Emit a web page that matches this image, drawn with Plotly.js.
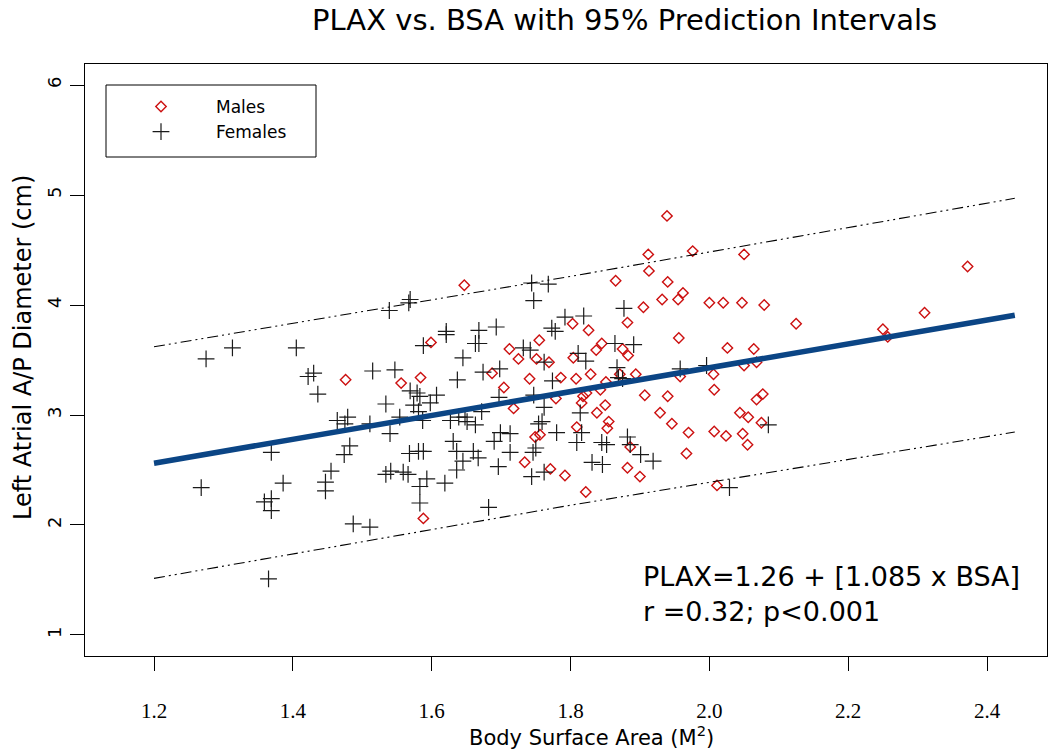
<!DOCTYPE html>
<html><head><meta charset="utf-8">
<script src="https://cdn.plot.ly/plotly-3.0.1.min.js"></script>
<style>html,body{margin:0;padding:0;background:#fff}#chart{width:1050px;height:752px}</style>
</head><body><div id="chart"></div>
<script>
// Males (diamonds)
const maleBSA = [1.647,1.599,1.476,1.556,1.584,1.687,1.704,1.718,1.712,1.725,1.741,1.734,1.588,
1.865,1.940,1.962,1.955,1.932,2.000,1.905,1.882,1.803,1.826,1.755,1.956,1.845,1.837,1.875,1.883,1.804,1.751,1.769,1.829,1.808,1.786,1.871,1.894,1.958,2.006,2.007,1.851,1.843,1.823,1.818,1.779,1.816,1.907,1.940,1.850,1.838,1.929,1.855,1.853,1.946,1.970,2.007,1.809,1.749,1.756,1.886,1.967,1.771,1.792,1.882,1.900,1.822,2.011,
1.939,1.912,1.976,2.050,1.913,2.020,2.047,2.079,2.125,2.026,2.064,2.068,2.050,2.077,2.068,2.044,2.056,2.024,2.048,2.055,2.075,
2.372,2.310,2.250,2.257];
const maleLA = [4.18,3.66,3.32,3.29,3.34,3.38,3.25,3.06,3.60,3.51,3.33,2.57,2.06,
4.22,4.21,4.11,4.05,4.05,4.02,3.98,3.84,3.83,3.77,3.68,3.70,3.65,3.59,3.60,3.54,3.52,3.51,3.48,3.37,3.33,3.34,3.37,3.37,3.35,3.37,3.23,3.30,3.23,3.20,3.17,3.15,3.11,3.18,3.17,3.09,3.02,3.02,2.94,2.88,2.92,2.84,2.85,2.89,2.80,2.82,2.71,2.65,2.51,2.45,2.52,2.44,2.30,2.36,
4.81,4.46,4.49,4.46,4.31,4.02,4.02,4.00,3.83,3.61,3.60,3.48,3.45,3.19,3.14,3.02,2.98,2.81,2.83,2.73,2.93,
4.35,3.93,3.78,3.71];
// Females (crosses)
const femaleBSA = [1.275,1.313,1.405,1.422,1.430,1.436,1.464,1.369,1.268,1.386,1.455,1.447,1.447,1.359,1.369,1.369,1.365,
1.567,1.569,1.539,1.621,1.621,1.668,1.693,1.663,1.668,1.588,1.645,1.698,1.674,1.515,1.547,1.637,1.569,1.579,1.583,1.607,1.598,1.574,1.534,1.581,1.554,1.587,1.697,1.672,1.639,1.648,1.651,1.627,1.663,1.511,1.479,1.475,1.540,1.699,1.713,1.690,1.631,1.482,1.474,1.588,1.581,1.568,1.636,1.660,1.667,1.713,1.645,1.636,1.696,1.541,1.534,1.559,1.566,1.593,1.583,1.619,1.583,1.682,1.487,1.511,
1.744,1.768,1.747,1.792,1.819,1.877,1.773,1.778,1.732,1.742,1.864,1.891,1.811,1.822,1.762,1.867,1.869,1.875,1.774,1.747,1.958,1.996,1.762,1.814,1.759,1.754,1.780,1.816,1.809,1.845,1.852,1.882,1.886,1.750,1.746,1.901,1.919,1.831,1.846,1.744,1.762,
2.085,2.029];
const femaleLA = [3.51,3.61,3.61,3.35,3.38,3.19,2.95,2.66,2.34,2.38,2.49,2.39,2.31,2.21,2.24,2.13,1.51,
4.02,4.05,3.95,3.76,3.73,3.77,3.80,3.65,3.65,3.63,3.52,3.42,3.39,3.40,3.41,3.32,3.22,3.20,3.17,3.18,3.11,3.09,3.10,3.03,2.98,2.95,3.16,3.03,2.98,2.98,2.94,2.95,2.91,2.92,2.98,2.92,2.83,2.84,2.83,2.76,2.76,2.72,2.64,2.67,2.67,2.65,2.67,2.67,2.61,2.66,2.58,2.50,2.53,2.49,2.46,2.48,2.46,2.42,2.35,2.38,2.20,2.16,2.01,1.98,
4.20,4.19,4.04,3.89,3.90,3.97,3.79,3.76,3.61,3.59,3.65,3.64,3.56,3.49,3.48,3.43,3.34,3.33,3.31,3.18,3.42,3.45,3.07,3.02,2.94,2.92,2.84,2.84,2.75,2.75,2.73,2.80,2.73,2.70,2.66,2.64,2.58,2.57,2.55,2.44,2.48,
2.91,2.34];
// Regression line and 95% prediction interval
const lineBSA = [1.2, 1.8, 2.44];
const fitLA = [2.562, 3.213, 3.907];
const upperPI = [3.62, 4.26, 4.97];
const lowerPI = [1.515, 2.18, 2.845];
// Axis ticks
const xTickVals = [1.2, 1.4, 1.6, 1.8, 2.0, 2.2, 2.4];
const xTickText = ['1.2', '1.4', '1.6', '1.8', '2.0', '2.2', '2.4'];
const yTickVals = [1, 2, 3, 4, 5, 6];
const seriesNames = ['Males', 'Females'];

const dashPI = '11px,4px,2px,4px,2px,4px';
const traces = [
  {x: maleBSA, y: maleLA, type: 'scatter', mode: 'markers', name: seriesNames[0],
   marker: {symbol: 'diamond-open', size: 8, color: '#cc1010', line: {width: 1.4, color: '#cc1010'}}},
  {x: femaleBSA, y: femaleLA, type: 'scatter', mode: 'markers', name: seriesNames[1],
   marker: {symbol: 'cross-thin-open', size: 12, color: '#1a1a1a', line: {width: 1.2, color: '#1a1a1a'}}},
  {x: lineBSA, y: upperPI, type: 'scatter', mode: 'lines', showlegend: false, hoverinfo: 'skip',
   line: {color: '#000', width: 1.1, dash: dashPI}},
  {x: lineBSA, y: lowerPI, type: 'scatter', mode: 'lines', showlegend: false, hoverinfo: 'skip',
   line: {color: '#000', width: 1.1, dash: dashPI}},
  {x: lineBSA, y: fitLA, type: 'scatter', mode: 'lines', showlegend: false, hoverinfo: 'skip',
   line: {color: '#0b4585', width: 5.5}}
];

const L = 85, R = 1047, T = 64, B = 656;
const px2x = p => (p - L) / (R - L);
const px2y = p => (B - p) / (B - T);

const layout = {
  width: 1050, height: 752,
  margin: {l: L, r: 1050 - R, t: T, b: 752 - B, pad: 0},
  paper_bgcolor: '#fff', plot_bgcolor: '#fff',
  showlegend: true,
  xaxis: {
    range: [1.1006, 2.4864], tickvals: xTickVals, ticktext: xTickText,
    ticks: 'outside', ticklen: 14, tickwidth: 1, tickcolor: '#000',
    showgrid: false, zeroline: false, showline: true, linecolor: '#000', linewidth: 1, mirror: true,
    tickfont: {family: 'Liberation Serif, serif', size: 21, color: '#000'},
    ticklabelstandoff: 22
  },
  yaxis: {
    range: [0.809, 6.191], tickvals: yTickVals, tickangle: -90,
    ticks: 'outside', ticklen: 14, tickwidth: 1, tickcolor: '#000',
    showgrid: false, zeroline: false, showline: true, linecolor: '#000', linewidth: 1, mirror: true,
    tickfont: {family: 'DejaVu Sans, sans-serif', size: 18, color: '#000'},
    ticklabelstandoff: 2
  },
  legend: {
    x: px2x(106), y: px2y(89), xanchor: 'left', yanchor: 'top',
    bgcolor: 'rgba(0,0,0,0)', borderwidth: 0, itemwidth: 100,
    font: {family: 'DejaVu Sans, sans-serif', size: 17, color: '#000'},
    tracegroupgap: 0
  },
  shapes: [
    {type: 'rect', xref: 'paper', yref: 'paper', x0: px2x(106), x1: px2x(316), y0: px2y(157), y1: px2y(85),
     line: {color: '#000', width: 1}, fillcolor: 'rgba(0,0,0,0)', layer: 'above'}
  ],
  annotations: [
    {text: 'PLAX vs. BSA with 95% Prediction Intervals', xref: 'paper', yref: 'paper',
     x: px2x(624), y: px2y(20), xanchor: 'center', yanchor: 'middle', showarrow: false,
     font: {family: 'DejaVu Sans, sans-serif', size: 29, color: '#000'}},
    {text: 'Body Surface Area (M<sup>2</sup>)', xref: 'paper', yref: 'paper',
     x: px2x(591), y: px2y(736), xanchor: 'center', yanchor: 'middle', showarrow: false,
     font: {family: 'DejaVu Sans, sans-serif', size: 21, color: '#000'}},
    {text: 'Left Atrial A/P Diameter (cm)', xref: 'paper', yref: 'paper', textangle: -90,
     x: px2x(23), y: px2y(348), xanchor: 'center', yanchor: 'middle', showarrow: false,
     font: {family: 'DejaVu Sans, sans-serif', size: 24, color: '#000'}},
    {text: 'PLAX=1.26 + [1.085 x BSA]<br>r =0.32; p&lt;0.001', xref: 'paper', yref: 'paper',
     x: px2x(641), y: px2y(594), xanchor: 'left', yanchor: 'middle', align: 'left', showarrow: false,
     font: {family: 'DejaVu Sans, sans-serif', size: 27, color: '#000'}}
  ]
};

Plotly.newPlot('chart', traces, layout, {displayModeBar: false, staticPlot: true});
</script>
</body></html>
